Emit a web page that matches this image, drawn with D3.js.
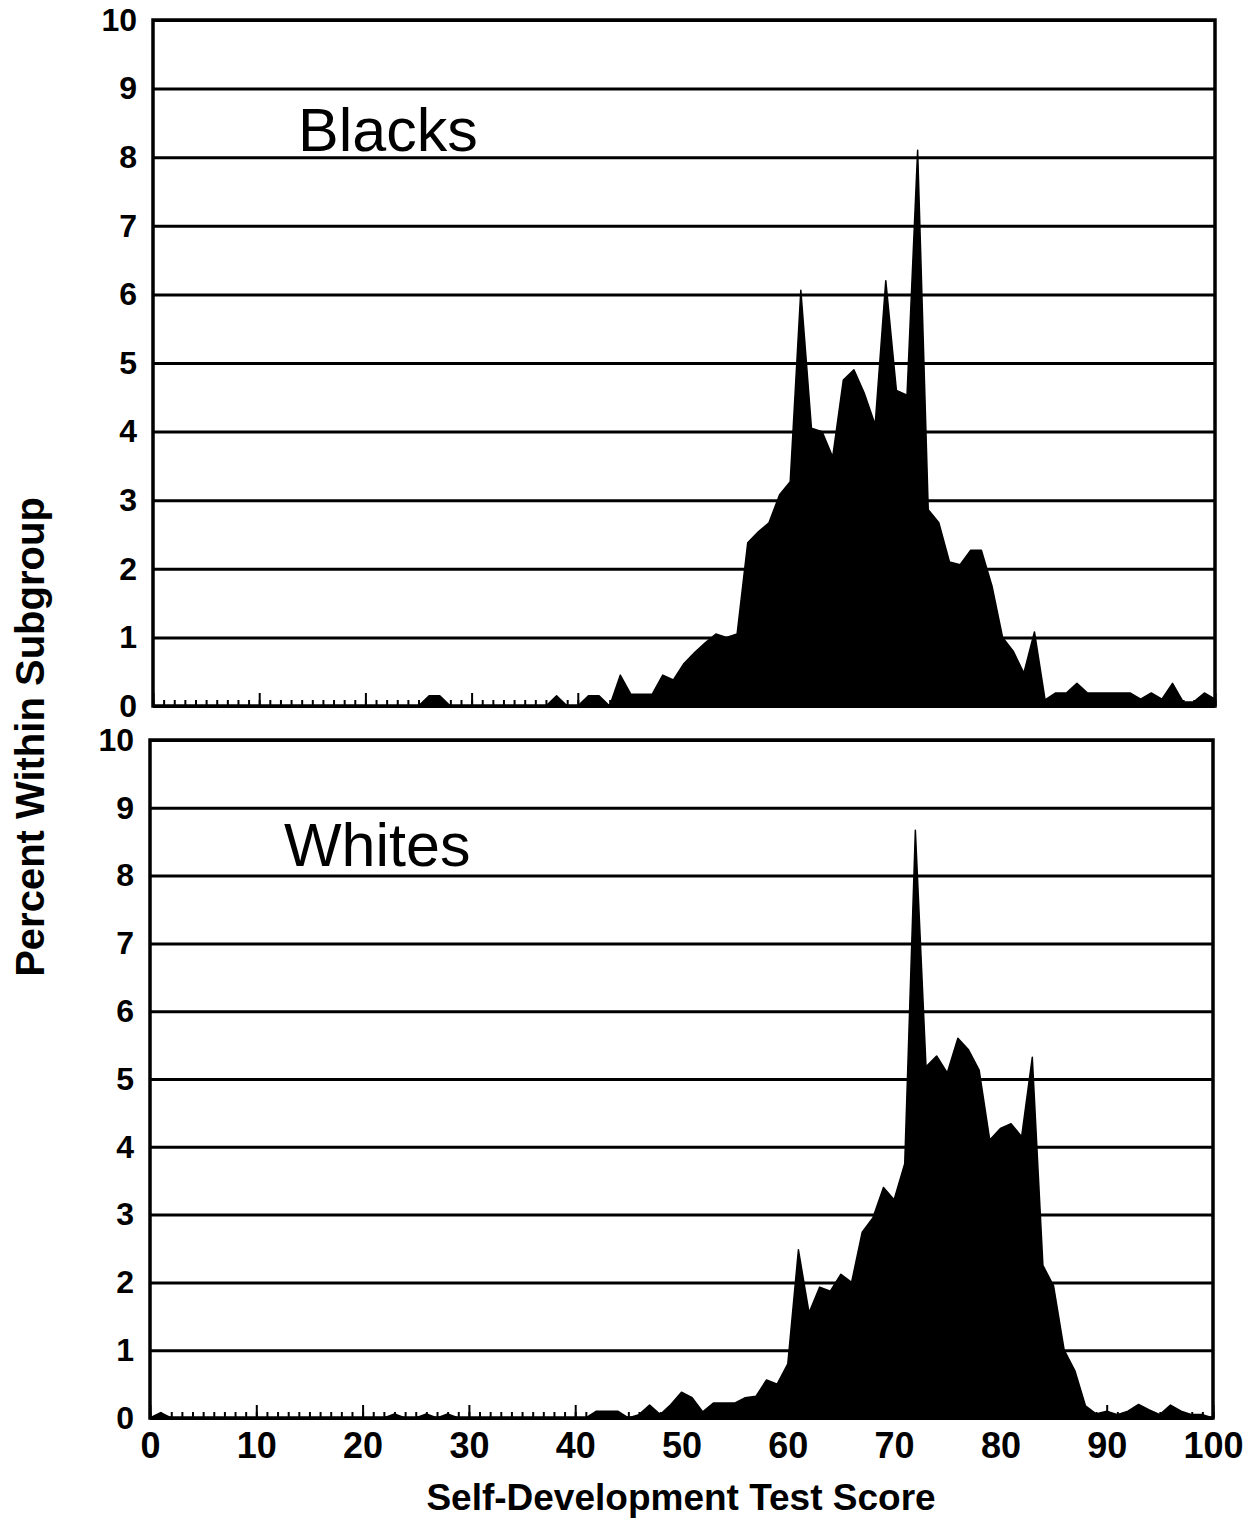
<!DOCTYPE html>
<html>
<head>
<meta charset="utf-8">
<script src="https://cdn.jsdelivr.net/npm/d3@7"></script>
<style>
  body { margin: 0; background: #fff; }
  svg text { font-family: "Liberation Sans", Arial, sans-serif; fill: #000; }
</style>
</head>
<body>
<svg id="chart" width="1252" height="1522"></svg>
<script>
// test scores 0..100 (x categories)
const scores = d3.range(0, 101);

// percent within subgroup
const blacksPct = [
  0, 0, 0, 0, 0, 0, 0, 0, 0, 0,
  0, 0, 0, 0, 0, 0, 0, 0, 0, 0,
  0, 0, 0, 0, 0, 0, 0.15, 0.15, 0, 0,
  0, 0, 0, 0, 0, 0, 0, 0, 0.15, 0,
  0, 0.15, 0.15, 0, 0.45, 0.17, 0.17, 0.17, 0.45, 0.38,
  0.62, 0.78, 0.92, 1.05, 1.0, 1.05, 2.38, 2.54, 2.67, 3.08,
  3.27, 6.06, 4.05, 4.0, 3.63, 4.75, 4.9, 4.55, 4.1, 6.2,
  4.6, 4.53, 8.1, 2.86, 2.67, 2.1, 2.06, 2.27, 2.27, 1.75,
  1.0, 0.8, 0.48, 1.08, 0.09, 0.19, 0.19, 0.33, 0.19, 0.19,
  0.19, 0.19, 0.19, 0.1, 0.19, 0.1, 0.33, 0.06, 0.06, 0.19,
  0.1
];

const whitesPct = [
  0, 0.08, 0, 0, 0, 0, 0, 0, 0, 0,
  0, 0, 0, 0, 0, 0, 0, 0, 0, 0,
  0, 0, 0, 0.06, 0, 0, 0.06, 0, 0.06, 0,
  0, 0, 0, 0, 0, 0, 0, 0, 0, 0,
  0, 0, 0.1, 0.1, 0.1, 0, 0.05, 0.19, 0.05, 0.2,
  0.38, 0.3, 0.09, 0.22, 0.22, 0.22, 0.3, 0.32, 0.56, 0.5,
  0.8, 2.48, 1.55, 1.93, 1.87, 2.12, 2.0, 2.74, 2.95, 3.4,
  3.22, 3.75, 8.67, 5.18, 5.34, 5.09, 5.6, 5.43, 5.13, 4.1,
  4.27, 4.34, 4.15, 5.32, 2.25, 1.95, 1.0, 0.7, 0.18, 0.06,
  0.1, 0.05, 0.1, 0.2, 0.12, 0.05, 0.19, 0.1, 0.05, 0.05,
  0
];

const yTicks = [0, 1, 2, 3, 4, 5, 6, 7, 8, 9, 10];
const xTicks = [0, 10, 20, 30, 40, 50, 60, 70, 80, 90, 100];

const svg = d3.select("#chart");

// panel boxes
const panels = [
  { name: "Blacks", values: blacksPct, left: 153, right: 1215, top: 20, bottom: 706, labelX: 298, labelY: 151, showX: false },
  { name: "Whites", values: whitesPct, left: 150, right: 1213, top: 740, bottom: 1418, labelX: 284, labelY: 866, showX: true }
];

panels.forEach(p => {
  const w = p.right - p.left;
  const h = p.bottom - p.top;
  const x = d3.scaleLinear().domain([0, 100]).range([0, w]);
  const y = d3.scaleLinear().domain([0, 10]).range([h, 0]);

  const g = svg.append("g").attr("transform", `translate(${p.left},${p.top})`);

  // gridlines
  g.append("g")
    .call(d3.axisRight(y).tickValues(yTicks).tickSize(w).tickFormat(""))
    .call(s => s.select(".domain").remove())
    .selectAll("line").attr("stroke", "#000").attr("stroke-width", 3);

  // filled distribution
  const area = d3.area()
    .x((d, i) => x(scores[i]))
    .y0(y(0))
    .y1(d => y(d));
  g.append("path")
    .datum(p.values)
    .attr("d", area)
    .attr("fill", "#000")
    .attr("stroke", "#000")
    .attr("stroke-width", 1.5)
    .attr("stroke-linejoin", "round");

  // minor ticks on the bottom edge (pointing in)
  g.append("g")
    .attr("transform", `translate(0,${h})`)
    .call(d3.axisTop(x).tickValues(scores).tickSize(6).tickFormat(""))
    .call(s => s.select(".domain").remove())
    .selectAll("line").attr("stroke", "#000").attr("stroke-width", 2);

  g.append("g")
    .attr("transform", `translate(0,${h})`)
    .call(d3.axisTop(x).tickValues(xTicks).tickSize(13).tickFormat(""))
    .call(s => s.select(".domain").remove())
    .selectAll("line").attr("stroke", "#000").attr("stroke-width", 2);

  // frame
  g.append("rect")
    .attr("width", w).attr("height", h)
    .attr("fill", "none").attr("stroke", "#000").attr("stroke-width", 3.5);

  // y tick labels
  g.append("g")
    .call(d3.axisLeft(y).tickValues(yTicks).tickSize(0).tickPadding(16))
    .call(s => s.select(".domain").remove())
    .selectAll("text")
    .style("font-size", "32px").style("font-weight", "bold")
    .attr("font-family", null);

  if (p.showX) {
    g.append("g")
      .attr("transform", `translate(0,${h})`)
      .call(d3.axisBottom(x).tickValues(xTicks).tickSize(0).tickPadding(14))
      .call(s => s.select(".domain").remove())
      .selectAll("text")
      .style("font-size", "36px").style("font-weight", "bold")
      .attr("font-family", null);
  }

  svg.append("text")
    .attr("x", p.labelX).attr("y", p.labelY)
    .style("font-size", "61px")
    .text(p.name);
});

// axis titles
svg.append("text")
  .attr("transform", "translate(44,737) rotate(-90)")
  .attr("text-anchor", "middle")
  .style("font-size", "40px").style("font-weight", "bold")
  .text("Percent Within Subgroup");

svg.append("text")
  .attr("x", 681).attr("y", 1510)
  .attr("text-anchor", "middle")
  .style("font-size", "37px").style("font-weight", "bold")
  .text("Self-Development Test Score");
</script>
</body>
</html>
